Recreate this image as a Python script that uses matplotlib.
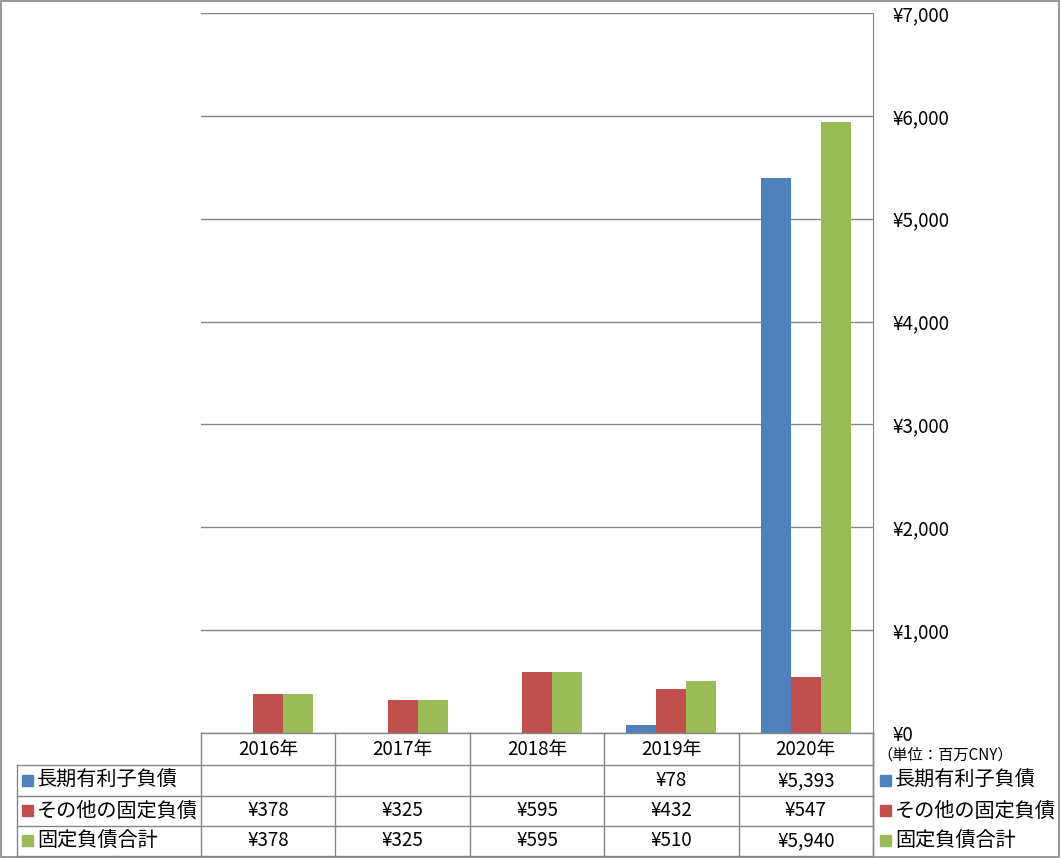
import matplotlib.pyplot as plt
from matplotlib.lines import Line2D
from matplotlib.patches import Rectangle

plt.rcParams['font.family'] = ['Noto Sans CJK JP', 'DejaVu Sans']

years = ["2016年", "2017年", "2018年", "2019年", "2020年"]
series_names = ["長期有利子負債", "その他の固定負債", "固定負債合計"]
long_debt = [None, None, None, 78, 5393]
other_fixed = [378, 325, 595, 432, 547]
total_fixed = [378, 325, 595, 510, 5940]
colors = ["#4F81BD", "#C0504D", "#9BBB59"]
y_ticks = [0, 1000, 2000, 3000, 4000, 5000, 6000, 7000]
unit_label = "（単位：百万CNY）"

W, H = 1061, 858
grid_col = "#868686"

fig = plt.figure(figsize=(W / 100, H / 100), dpi=100)

def fx(px):
    return px / W

def fy(py):
    return 1 - py / H

# plot area in pixels
x0, x1 = 201, 873
y_top, y_bot = 13, 733
ax = fig.add_axes([fx(x0), fy(y_bot), fx(x1 - x0), (y_bot - y_top) / H])

bw = 0.223
all_series = [long_debt, other_fixed, total_fixed]
for k, (vals, c) in enumerate(zip(all_series, colors)):
    xs = [i + (k - 1) * bw for i, v in enumerate(vals) if v is not None]
    hs = [v for v in vals if v is not None]
    ax.bar(xs, hs, width=bw, color=c, zorder=3)

ax.set_xlim(-0.5, len(years) - 0.5)
ax.set_ylim(0, 7000)
ax.set_yticks(y_ticks)
ax.yaxis.tick_right()
ax.set_yticklabels(["¥{:,}".format(t) for t in y_ticks], fontsize=13.5)
ax.tick_params(axis="y", length=0, pad=14)
ax.set_xticks([])
ax.grid(axis="y", color=grid_col, linewidth=1, zorder=0)
for s in ["left", "top", "bottom"]:
    ax.spines[s].set_visible(False)
ax.spines["right"].set_color(grid_col)

# data table
col_w = (x1 - x0) / len(years)
row_y = [733, 765, 796, 826, 856]

def hline(xa, xb, y):
    fig.add_artist(Line2D([fx(xa), fx(xb)], [fy(y), fy(y)], color=grid_col, lw=1))

def vline(x, ya, yb):
    fig.add_artist(Line2D([fx(x), fx(x)], [fy(ya), fy(yb)], color=grid_col, lw=1))

hline(x0, x1, row_y[0])
for y in row_y[1:]:
    hline(17, x1, y)
vline(17, row_y[1], row_y[-1])
for i in range(len(years) + 1):
    vline(x0 + i * col_w, row_y[0], row_y[-1])
vline(x1, y_bot, row_y[-1])

for i, yr in enumerate(years):
    fig.text(fx(x0 + (i + 0.5) * col_w), fy((row_y[0] + row_y[1]) / 2), yr,
             ha="center", va="center", fontsize=13.5)

for r, (name, vals, c) in enumerate(zip(series_names, all_series, colors)):
    ymid = (row_y[r + 1] + row_y[r + 2]) / 2
    for i, v in enumerate(vals):
        if v is not None:
            fig.text(fx(x0 + (i + 0.5) * col_w), fy(ymid), "¥{:,}".format(v),
                     ha="center", va="center", fontsize=13.5)
    # left legend keys
    fig.add_artist(Rectangle((fx(22), fy(ymid + 5)), fx(11), 11 / H, color=c))
    fig.text(fx(37), fy(ymid), name, ha="left", va="center", fontsize=14.5)
    # right legend keys
    fig.add_artist(Rectangle((fx(880), fy(ymid + 5)), fx(11), 11 / H, color=c))
    fig.text(fx(895), fy(ymid), name, ha="left", va="center", fontsize=14.5)

fig.text(fx(877), fy(755), unit_label, ha="left", va="center", fontsize=11)

# outer border
fig.add_artist(Rectangle((0.0005, 0.0008), 0.998, 0.998, fill=False,
                         edgecolor=grid_col, lw=1.2))

fig.savefig("out.png", dpi=100)
